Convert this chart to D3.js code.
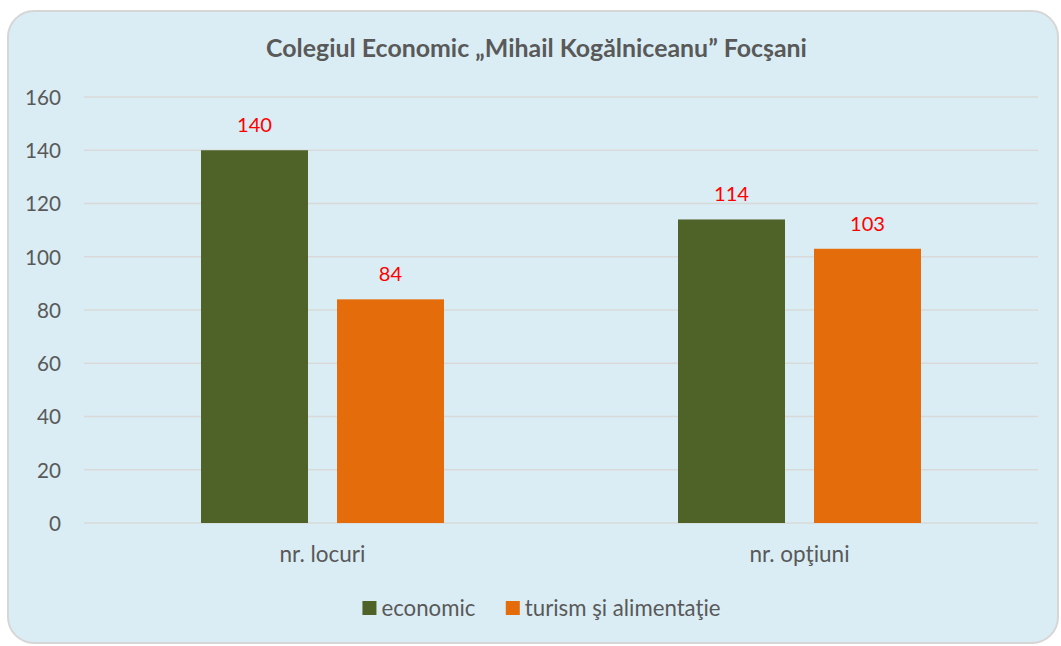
<!DOCTYPE html>
<html><head><meta charset="utf-8">
<script src="https://cdn.jsdelivr.net/npm/d3@7"></script>
<style>
html,body{margin:0;padding:0;background:#fff;}
svg{display:block;font-family:Lato, "Open Sans", sans-serif;}
</style></head>
<body><svg id="c" width="1061" height="646"></svg>
<script>
const categories = ["nr. locuri", "nr. opţiuni"];
const seriesNames = ["economic", "turism şi alimentaţie"];
const economic = [140, 114];
const turism = [84, 103];
const yTicks = [0, 20, 40, 60, 80, 100, 120, 140, 160];
const colors = ["#4f6228", "#e46c0a"];
const title = "Colegiul Economic „Mihail Kogălniceanu” Focşani";

(function () {
const svg = d3.select("#c");
const FONT = "Lato, sans-serif";

// font size that makes a sample string reach a target width
function fitSize(txt, target, weight) {
  const t = svg.append("text").attr("font-family", FONT).attr("font-size", 100)
    .attr("font-weight", weight || "normal").text(txt);
  const w = t.node().getComputedTextLength();
  t.remove();
  return 100 * target / w;
}
const fsTick = fitSize("160", 36);
const fsCat = fitSize("nr. locuri", 86);
const fsLab = fitSize("140", 35);
const fsTitle = fitSize(title, 541, "bold");
const fsLeg = fitSize("economic", 94);

svg.append("rect").attr("x", 8).attr("y", 11).attr("width", 1050).attr("height", 632)
  .attr("rx", 26).attr("fill", "#daedf4").attr("stroke", "#d6d6d6").attr("stroke-width", 2);

const pl = 84, pr = 1038, pt = 97, pb = 523;
const x = d3.scaleBand().domain(categories).range([pl, pr]);
const y = d3.scaleLinear().domain([0, 160]).range([pb, pt]);
const series = [economic, turism];

svg.append("g").selectAll("line").data(yTicks).join("line")
  .attr("x1", pl).attr("x2", pr)
  .attr("y1", d => y(d)).attr("y2", d => y(d))
  .attr("stroke", "#d9d9d9").attr("stroke-width", 1.5);

const yAxis = d3.axisLeft(y).tickValues(yTicks).tickSize(0).tickPadding(0);
const ga = svg.append("g").attr("transform", `translate(${61},0)`).call(yAxis);
ga.select(".domain").remove();
ga.selectAll("text").attr("font-size", fsTick).attr("fill", "#595959").attr("font-family", FONT).attr("dy", "0.36em");

const xAxis = d3.axisBottom(x).tickSize(0).tickPadding(0);
const gx = svg.append("g").attr("transform", `translate(0,${pb + 31})`).call(xAxis);
gx.select(".domain").remove();
gx.selectAll("text").attr("font-size", fsCat).attr("fill", "#595959").attr("font-family", FONT).attr("dy", "0.36em");

const bw = x.bandwidth() * 107 / 477;
const gap = x.bandwidth() * 29 / 477;
const sub = d3.scaleBand().domain([0, 1]).range([0, 2 * bw + gap]).paddingInner(gap / (bw + gap)).paddingOuter(0);

series.forEach((vals, si) => {
  const g = svg.append("g");
  const bx = (d, i) => x(categories[i]) + x.bandwidth() / 2 - (2 * bw + gap) / 2 + sub(si);
  g.selectAll("rect").data(vals).join("rect")
    .attr("x", bx)
    .attr("width", sub.bandwidth())
    .attr("y", d => y(d)).attr("height", d => pb - y(d))
    .attr("fill", colors[si]);
  g.selectAll("text").data(vals).join("text")
    .attr("x", (d, i) => bx(d, i) + sub.bandwidth() / 2)
    .attr("y", d => y(d) - 18)
    .attr("text-anchor", "middle").attr("font-size", fsLab).attr("fill", "#ff0000")
    .attr("font-family", FONT)
    .text(d => d);
});

svg.append("text").attr("x", 536.5).attr("y", 57).attr("text-anchor", "middle")
  .attr("font-family", FONT)
  .attr("font-size", fsTitle).attr("font-weight", "bold").attr("fill", "#595959").text(title);

const lg = svg.append("g");
const items = [];
seriesNames.forEach((n, i) => {
  const it = lg.append("g");
  it.append("rect").attr("x", 0).attr("y", -7).attr("width", 14).attr("height", 14).attr("fill", colors[i]);
  it.append("text").attr("x", 19).attr("y", 0).attr("dy", "0.36em").attr("font-family", FONT)
    .attr("font-size", fsLeg).attr("fill", "#595959").text(n);
  items.push(it);
});
const w0 = items[0].node().getBBox().width;
const w1 = items[1].node().getBBox().width;
const sp = 30;
const total = w0 + sp + w1;
const startX = 541.5 - total / 2;
items[0].attr("transform", `translate(${startX},608)`);
items[1].attr("transform", `translate(${startX + w0 + sp},608)`);
})();
</script></body></html>
